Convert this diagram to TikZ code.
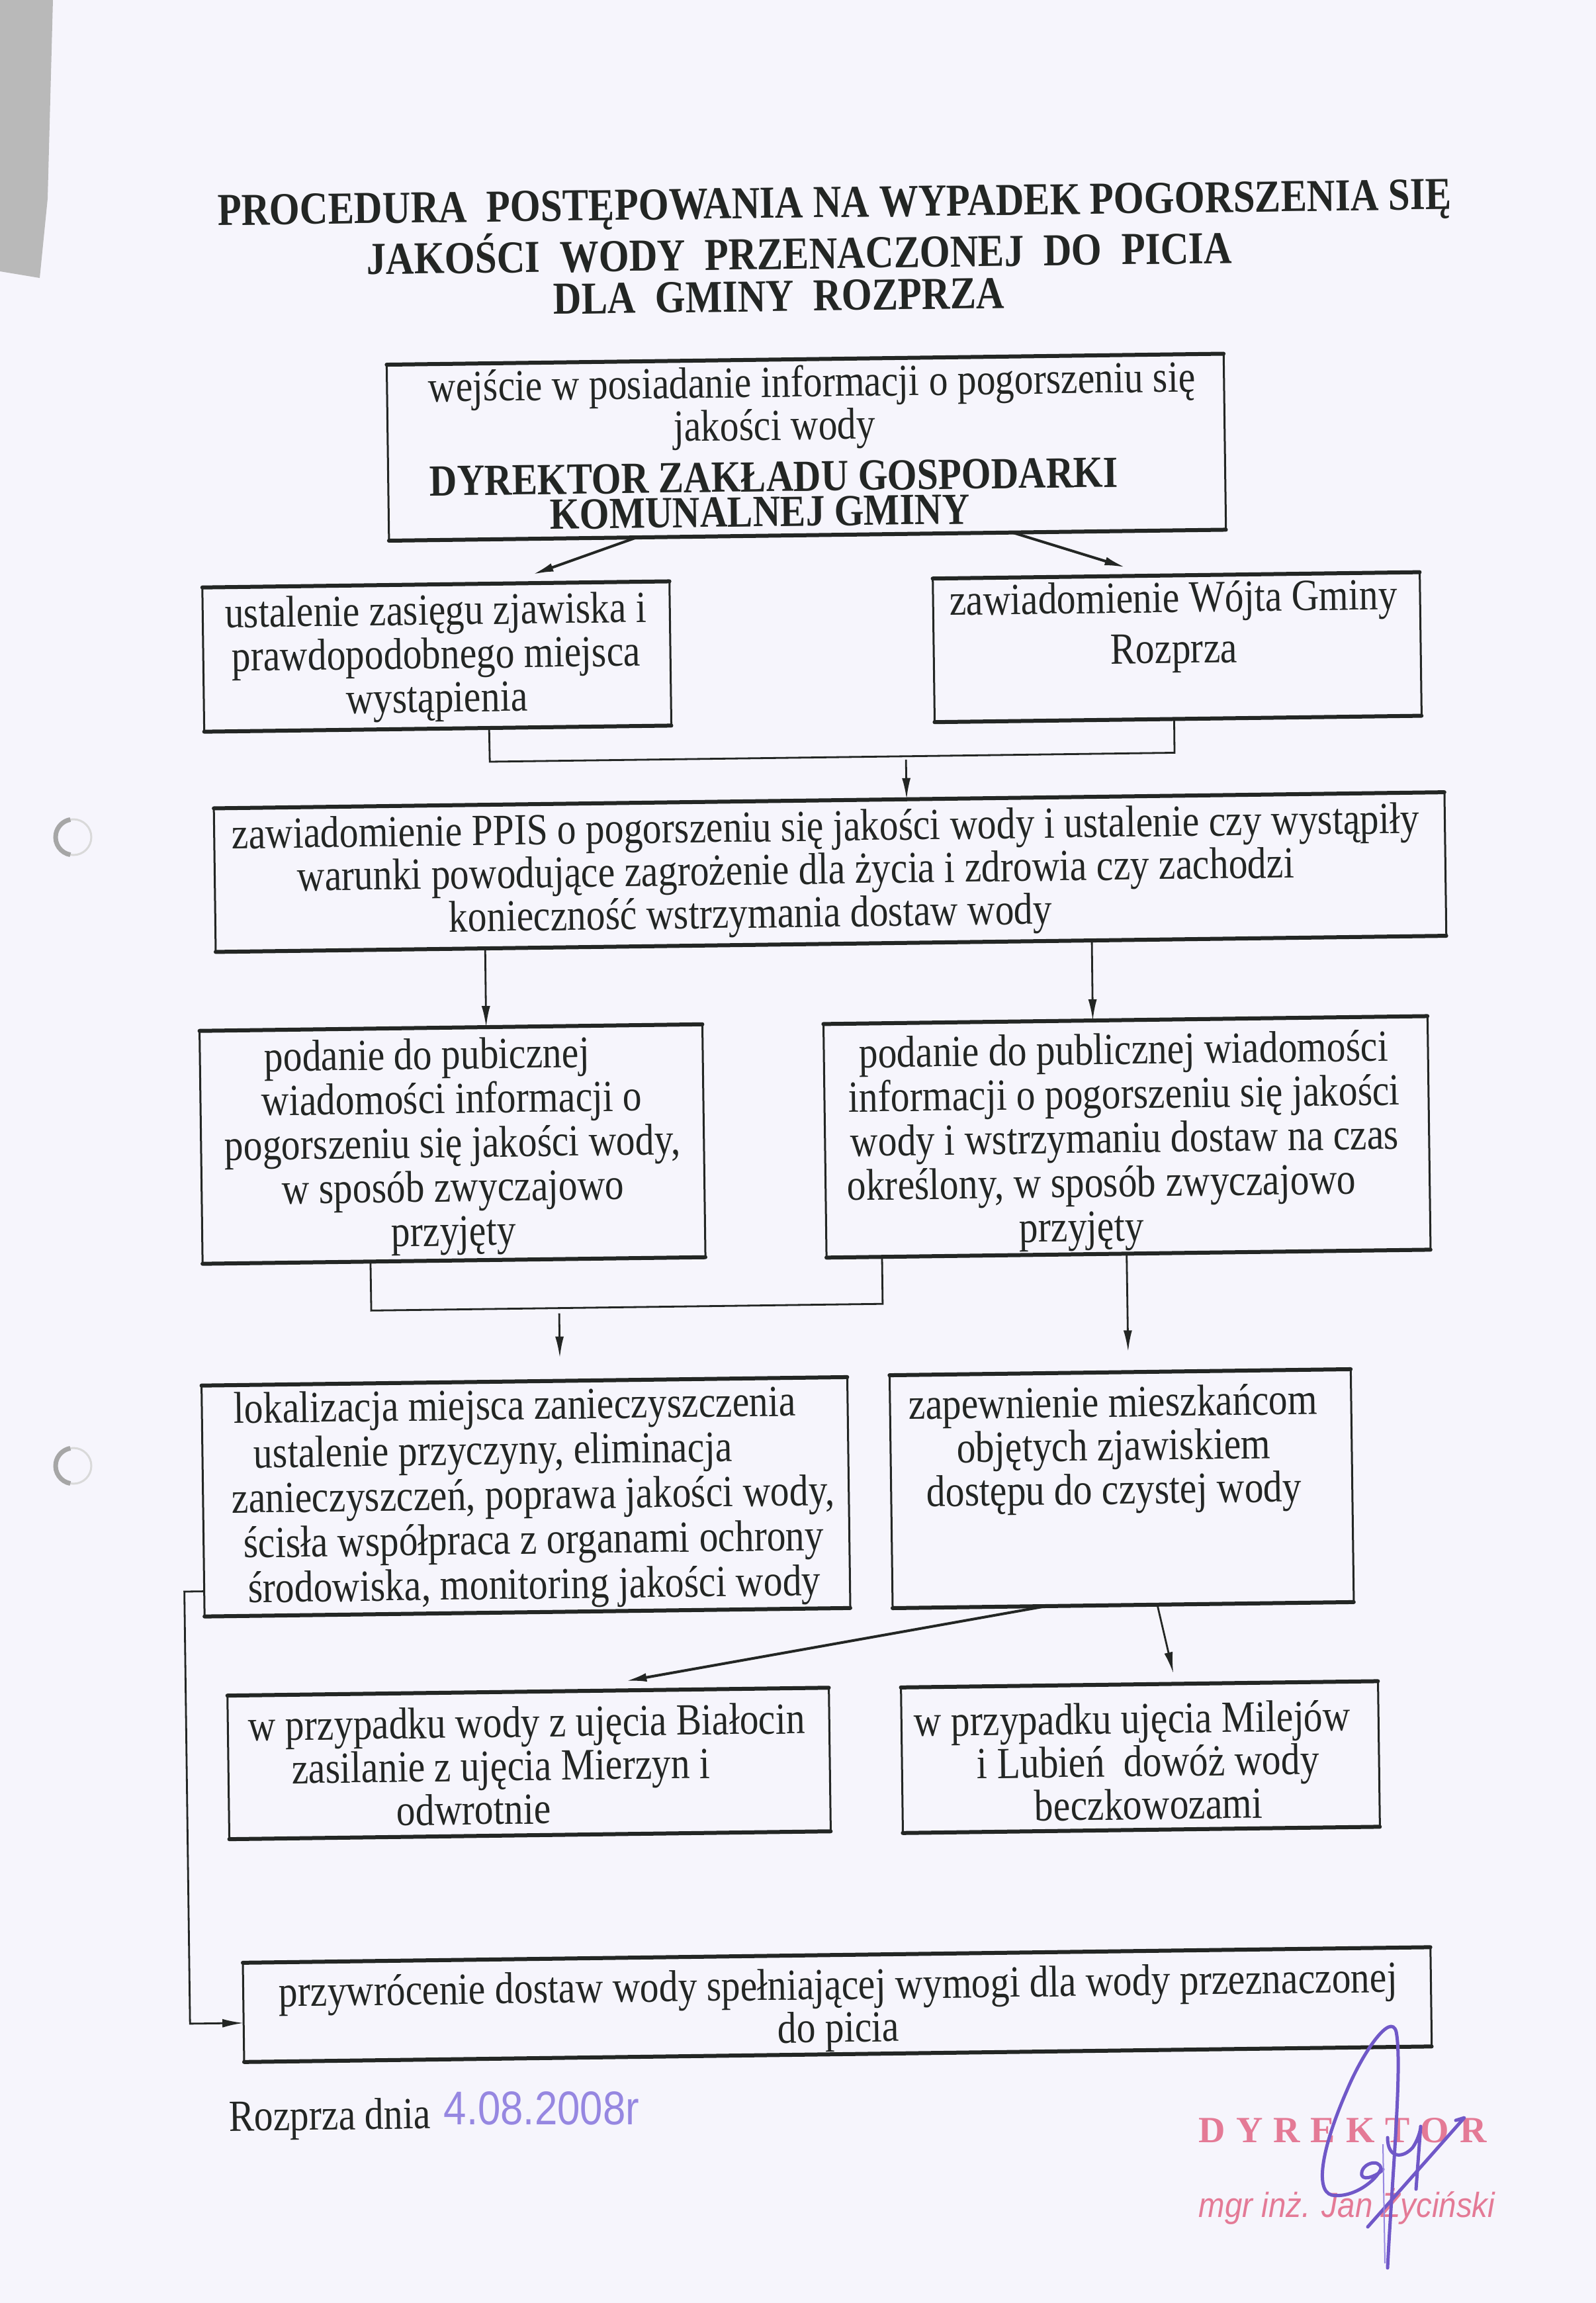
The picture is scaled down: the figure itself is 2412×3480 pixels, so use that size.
\documentclass[tikz,border=0pt]{standalone}
\usepackage{fontspec}
\setmainfont{Liberation Serif}[FakeStretch=0.855]
\newfontfamily\plainserif{Liberation Serif}
\newfontfamily\sansf{Liberation Sans}
\usetikzlibrary{arrows.meta,calc}
\definecolor{ink}{RGB}{35,38,36}
\definecolor{paper}{RGB}{246,245,252}
\definecolor{stampc}{RGB}{228,122,150}
\definecolor{penc}{RGB}{112,88,200}
\definecolor{penlight}{RGB}{150,135,225}
\newcommand\tf[1]{\fontsize{19.13pt}{#1}\selectfont}
\newcommand\sh[1]{\hspace*{#1}\mbox{}}
\newcommand\mkbox[5]{\node[box,minimum width={(#4-#2)*0.1mm},minimum height={(#5-#3)*0.1mm}] (#1) at ({(#2+#4)/2},{(#3+#5)/2}) {};}
\begin{document}
\begin{tikzpicture}[x=0.1mm,y=-0.1mm,
  box/.style={draw=ink,line width=0.3mm,inner sep=0pt,outer sep=0pt},
  hline/.style={draw=ink,line width=0.6mm,line cap=round},
  txt/.style={align=center,inner sep=0pt,text=ink,font=\tf{18.78pt}},
  conn/.style={draw=ink,line width=0.28mm},
  arr/.style={conn,-{Latex[length=3.2mm,width=1.3mm]}},
  hole/.style={draw=gray!70,line width=0.7mm},
  sig/.style={draw=penc,line width=0.5mm,line cap=round,line join=round}]
\fill[paper] (0,0) rectangle (2412,3480);
\useasboundingbox (0,0) rectangle (2412,3480);
% scan shadow and punch holes
\fill[gray!55] (0,0) -- (80,0) -- (72,300) -- (60,420) -- (0,410) -- cycle;
\draw[gray!30,line width=0.3mm] (111,1265) circle (27);
\draw[hole] (111,1265) ++(100:27) arc (100:260:27);
\draw[gray!30,line width=0.3mm] (111,2215) circle (27);
\draw[hole] (111,2215) ++(100:27) arc (100:260:27);

\begin{scope}[rotate around={0.75:(1206,1740)},transform shape]
\node[txt,font=\fontsize{19.64pt}{18.07pt}\selectfont\bfseries] (title) at (1280,377)
  {PROCEDURA~ POSTĘPOWANIA NA WYPADEK POGORSZENIA SIĘ\\
   JAKOŚCI~ WODY~ PRZENACZONEJ~ DO~ PICIA\sh{10.8mm}\\
   DLA~ GMINY~ ROZPRZA\sh{17.2mm}};

\mkbox{b1}{600}{543}{1865}{809}
\mkbox{b2}{317}{876}{1023}{1094}
\mkbox{b3}{1421}{877}{2157}{1094}
\mkbox{b4}{330}{1210}{2190}{1427}
\mkbox{b5}{304}{1546}{1064}{1898}
\mkbox{b6}{1247}{1548}{2160}{1901}
\mkbox{b7}{300}{2082}{1276}{2431}
\mkbox{b8}{1340}{2080}{2037}{2432}
\mkbox{b10}{333}{2551}{1242}{2768}
\mkbox{b11}{1351}{2552}{2072}{2772}
\mkbox{b9}{351}{2955}{2146}{3105}
\foreach \n in {b1,b2,b3,b4,b5,b6,b7,b8,b9,b10,b11}
  {\draw[hline] (\n.north west) -- (\n.north east) (\n.south west) -- (\n.south east);}

\node[txt,font=\tf{16.5pt}] (t1) at (1242,674)
  {wejście w posiadanie informacji o pogorszeniu się\\
   jakości wody\sh{11.4mm}\\[4.3pt]
   \textbf{DYREKTOR ZAKŁADU GOSPODARKI}\sh{11.8mm}\\[-1.5pt]
   \textbf{KOMUNALNEJ GMINY}\sh{16.2mm}};
\node[txt] (t2) at (669,987) {ustalenie zasięgu zjawiska i\\prawdopodobnego miejsca\\wystąpienia};
\node[txt,font=\tf{21.9pt}] (t3) at (1784,955) {zawiadomienie Wójta Gminy\\Rozprza};
\node[txt,font=\tf{18.49pt}] (t4) at (1254,1320)
  {zawiadomienie PPIS o pogorszeniu się jakości wody i ustalenie czy wystąpiły\\
   warunki powodujące zagrożenie dla życia i zdrowia czy zachodzi\sh{9.2mm}\\
   konieczność wstrzymania dostaw wody\sh{23mm}};
\node[txt,font=\tf{19pt}] (t5) at (684,1726)
  {podanie do pubicznej\sh{7.4mm}\\wiadomości informacji o\\pogorszeniu się jakości wody,\\w sposób zwyczajowo\\przyjęty};
\node[txt,font=\tf{19pt}] (t6) at (1700,1732)
  {podanie do publicznej wiadomości\\informacji o pogorszeniu się jakości\\wody i wstrzymaniu dostaw na czas\\
   określony, w sposób zwyczajowo\sh{7.2mm}\\przyjęty\sh{13.4mm}};
\node[txt,font=\tf{19.3pt}] (t7) at (799,2259)
  {lokalizacja miejsca zanieczyszczenia\sh{5.2mm}\\ustalenie przyczyny, eliminacja\sh{12mm}\\
   zanieczyszczeń, poprawa jakości wody,\\ścisła współpraca z organami ochrony\\środowiska, monitoring jakości wody};
\node[txt] (t8) at (1677,2197) {zapewnienie mieszkańcom\\objętych zjawiskiem\\dostępu do czystej wody};
\node[txt,font=\tf{18.64pt}] (t10) at (785,2662)
  {w przypadku wody z ujęcia Białocin\\zasilanie z ujęcia Mierzyn i\sh{8mm}\\odwrotnie\sh{16.4mm}};
\node[txt,font=\tf{18.5pt}] (t11) at (1723,2668)
  {w przypadku ujęcia Milejów\sh{4.6mm}\\i Lubień~ dowóż wody\\beczkowozami};
\node[txt,font=\tf{17.07pt}] (t9) at (1250,3038)
  {przywrócenie dostaw wody spełniającej wymogi dla wody przeznaczonej\\do picia};
\node[anchor=base west,inner sep=0pt,text=ink,font=\tf{18pt}] (rd) at (326,3209) {Rozprza dnia};

% connectors
\coordinate (c1) at (816,863);
\coordinate (c2) at (1713,864);
\draw[arr,line width=0.4mm] ($(b1.south west)!0.296!(b1.south east)$) -- (c1);
\draw[arr,line width=0.4mm] ($(b1.south west)!0.745!(b1.south east)$) -- (c2);
\coordinate (j1) at (748,1145);
\coordinate (j2) at (1783,1145);
\coordinate (j3) at (1377,1150);
\draw[conn] ($(b2.south west)!0.61!(b2.south east)$) -- (j1) -- (j2) -- ($(b3.south west)!0.492!(b3.south east)$);
\draw[arr] (j3) -- ($(b4.north west)!0.563!(b4.north east)$);
\draw[arr] ($(b4.south west)!0.219!(b4.south east)$) -- ($(b5.north west)!0.57!(b5.north east)$);
\draw[arr] ($(b4.south west)!0.712!(b4.south east)$) -- ($(b6.north west)!0.446!(b6.north east)$);
\coordinate (k0) at (558,1972);
\coordinate (k4) at (1331,1972);
\draw[conn] ($(b5.south west)!0.334!(b5.south east)$) -- (k0) -- (k4) -- ($(b6.south west)!0.092!(b6.south east)$);
\coordinate (k1) at (842,1980);
\coordinate (k2) at (842,2047);
\draw[arr] (k1) -- (k2);
\coordinate (k3) at (1701,2049);
\draw[arr] ($(b6.south west)!0.497!(b6.south east)$) -- (k3);
\coordinate (m1) at (270,2393);
\coordinate (m2) at (270,3046);
\draw[arr] ($(b7.north west)!0.891!(b7.south west)$) -- (m1) -- (m2) -- ($(b9.north west)!0.607!(b9.south west)$);
\coordinate (n1) at (935,2537);
\coordinate (n2) at (1763,2536);
\draw[arr,line width=0.4mm] ($(b8.south west)!0.333!(b8.south east)$) -- (n1);
\draw[arr] ($(b8.south west)!0.574!(b8.south east)$) -- (n2);
\end{scope}

% handwritten date, stamp and signature
\node[anchor=base west,inner sep=0pt,text=penlight,font=\sansf\fontsize{18.5pt}{20pt}\selectfont] (date) at (670,3210) {\scalebox{0.95}[1.1]{4.08.2008r}};
\node[anchor=base west,inner sep=0pt,text=stampc,font=\plainserif\bfseries\fontsize{15.9pt}{17pt}\selectfont] (st1) at (1811,3237)
  {D\kern1.6mm Y\kern1.6mm R\kern1.6mm E\kern1.6mm K\kern1.6mm T\kern1.6mm O\kern1.6mm R};
\node[anchor=base west,inner sep=0pt,text=stampc,font=\sansf\itshape\fontsize{15pt}{17pt}\selectfont] (st2) at (1811,3350)
  {\scalebox{0.9}[1]{mgr inż. Jan Życiński}};
\draw[sig] (2097,3427) .. controls (2103,3300) and (2120,3120) .. (2110,3070)
  .. controls (2102,3040) and (2060,3100) .. (2035,3160)
  .. controls (2000,3240) and (1985,3310) .. (2013,3317)
  .. controls (2045,3322) and (2080,3295) .. (2087,3277)
  .. controls (2085,3260) and (2055,3270) .. (2058,3287)
  .. controls (2062,3297) and (2085,3285) .. (2090,3278);
\draw[sig] (2097,3230) .. controls (2097,3262) and (2120,3262) .. (2135,3245)
  .. controls (2142,3235) and (2147,3220) .. (2147,3213) -- (2140,3308);
\draw[sig] (2067,3365) -- (2213,3200) -- (2200,3204);
\draw[draw=penlight,line width=0.2mm] (2090,3240) -- (2093,3420);
\end{tikzpicture}
\end{document}
